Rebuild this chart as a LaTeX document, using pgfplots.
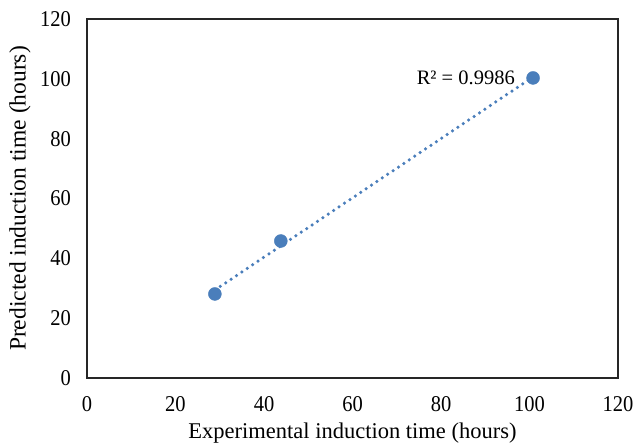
\documentclass[border=0pt]{standalone}
\usepackage{fontspec}
\setmainfont{Liberation Serif}
\usepackage{pgfplots}
\usepackage{pgfplotstable}
\pgfplotsset{compat=1.18}
\definecolor{xlblue}{HTML}{4A7EBB}

\pgfplotstableread{
X Y
28.9 28.1
43.8 45.8
100.8 100.3
}\induction

\begin{document}
\begin{tikzpicture}
\begin{axis}[
    scale only axis,
    width=531bp,
    height=359bp,
    xmin=0, xmax=120,
    ymin=0, ymax=120,
    xtick={0,20,...,120},
    ytick={0,20,...,120},
    major tick length=0pt,
    axis line style={black!85, line width=1.5bp},
    tick label style={font=\fontsize{20.5bp}{23bp}\selectfont, inner sep=0pt, transform shape, yscale=1.1},
    /pgf/number format/assume math mode=true,
    xticklabel style={anchor=north, yshift=-17bp},
    yticklabel style={anchor=east, xshift=-16bp},
    xlabel={Experimental induction time (hours)},
    ylabel={Predicted induction time (hours)},
    xlabel style={font=\fontsize{22.5bp}{25bp}\selectfont, at={(axis description cs:0.5,-0.152)}, anchor=center},
    ylabel style={font=\fontsize{23.5bp}{26bp}\selectfont, at={(axis description cs:-0.126,0.5)}, anchor=center},
    clip=false,
]
% trendline (linear fit)
\addplot[xlblue, line width=3.5bp, line cap=round, dash pattern=on 0pt off 6.5bp, no marks]
    table[x=X, y={create col/linear regression={y=Y}}] {\induction};
% data points
\addplot[only marks, mark=*, mark size=6.5bp, mark options={fill=xlblue, draw=xlblue}]
    table[x=X, y=Y] {\induction};
\node[font=\fontsize{20.5bp}{23bp}\selectfont] at (axis cs:85.6,100.5) {R² = 0.9986};
\coordinate (bbbl) at (axis description cs:-0.1638,-0.1811);
\coordinate (bbtr) at (axis description cs:1.0282,1.0529);
\end{axis}
\pgfresetboundingbox
\path (bbbl) rectangle (bbtr);
\end{tikzpicture}
\end{document}
